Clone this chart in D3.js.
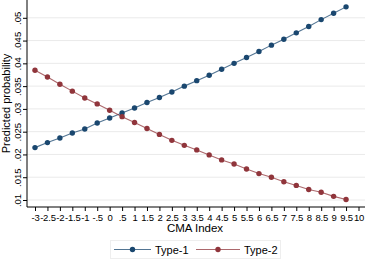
<!DOCTYPE html>
<html>
<head>
<meta charset="utf-8">
<script src="https://cdn.jsdelivr.net/npm/d3@7"></script>
<style>
  body { margin: 0; background: #fff; }
  svg { display: block; font-family: "Liberation Sans", Arial, sans-serif; }
</style>
</head>
<body>
<div id="chart"></div>
<script>
// CMA index values and predicted probabilities
const cmaIndex = [-3, -2.5, -2, -1.5, -1, -0.5, 0, 0.5, 1, 1.5, 2, 2.5, 3, 3.5,
  4, 4.5, 5, 5.5, 6, 6.5, 7, 7.5, 8, 8.5, 9, 9.5];

const type1 = [0.0215, 0.0226, 0.0236, 0.0247, 0.0256, 0.0269, 0.0280, 0.0291, 0.0302,
  0.0314, 0.0325, 0.0337, 0.0350, 0.0362, 0.0374, 0.0387, 0.0400, 0.0413, 0.0426,
  0.0440, 0.0453, 0.0467, 0.0481, 0.0496, 0.0510, 0.0524];

const type2 = [0.0385, 0.0370, 0.0354, 0.0339, 0.0324, 0.0311, 0.0297, 0.0283, 0.0270,
  0.0257, 0.0244, 0.0231, 0.0220, 0.0210, 0.0199, 0.0188, 0.0179, 0.0168, 0.0158,
  0.0150, 0.0140, 0.0132, 0.0123, 0.0117, 0.0108, 0.0101];

const xTicks = [-3, -2.5, -2, -1.5, -1, -0.5, 0, 0.5, 1, 1.5, 2, 2.5, 3, 3.5, 4,
  4.5, 5, 5.5, 6, 6.5, 7, 7.5, 8, 8.5, 9, 9.5, 10];
const yTicks = [0.01, 0.015, 0.02, 0.025, 0.03, 0.035, 0.04, 0.045, 0.05];

const seriesNames = ["Type-1", "Type-2"];
const colors = ["#1a476f", "#90353b"];

const width = 369, height = 264;
const plot = { left: 27, right: 365, top: 0, bottom: 207 };

const svg = d3.select("#chart").append("svg")
  .attr("width", width)
  .attr("height", height);

const x = d3.scaleLinear().domain([-3, 10]).range([35, 358.5]);
const y = d3.scaleLinear().domain([0.01, 0.05]).range([200, 17.8]);

// stata style numbers: .5, -.5, .015
const stataFmt = d => String(+d.toFixed(4)).replace(/^(-?)0\./, "$1.");

// horizontal grid
svg.append("g")
  .selectAll("line")
  .data(yTicks)
  .join("line")
  .attr("x1", plot.left)
  .attr("x2", plot.right)
  .attr("y1", d => y(d))
  .attr("y2", d => y(d))
  .attr("stroke", "#eaeaea")
  .attr("stroke-width", 1);

// x axis
const xAxis = svg.append("g")
  .attr("transform", `translate(0,${plot.bottom})`)
  .call(d3.axisBottom(x).tickValues(xTicks).tickSize(4).tickSizeOuter(0).tickFormat(stataFmt));
xAxis.select(".domain").remove();
xAxis.append("line")
  .attr("x1", plot.left).attr("x2", plot.right)
  .attr("stroke", "#000").attr("stroke-width", 1);
xAxis.selectAll(".tick line").attr("stroke", "#000");
xAxis.selectAll(".tick text")
  .attr("y", 7)
  .style("font-size", "9.5px")
  .style("letter-spacing", "-0.2px")
  .style("font-family", "'Liberation Sans', Arial, sans-serif")
  .attr("fill", "#000");

// y axis
const yAxis = svg.append("g")
  .attr("transform", `translate(${plot.left},0)`)
  .call(d3.axisLeft(y).tickValues(yTicks).tickSize(4).tickSizeOuter(0).tickFormat(stataFmt));
yAxis.select(".domain").remove();
yAxis.append("line")
  .attr("y1", plot.top).attr("y2", plot.bottom)
  .attr("stroke", "#000").attr("stroke-width", 1);
yAxis.selectAll(".tick line").attr("stroke", "#000");
yAxis.selectAll(".tick text")
  .attr("x", null)
  .attr("dy", "0")
  .attr("text-anchor", "middle")
  .attr("transform", "translate(-6.5,0) rotate(-90)")
  .style("font-size", "9.5px")
  .style("font-family", "'Liberation Sans', Arial, sans-serif")
  .attr("fill", "#000");

// axis titles
svg.append("text")
  .attr("x", 195)
  .attr("y", 232)
  .attr("text-anchor", "middle")
  .style("font-size", "11.5px")
  .text("CMA Index");

svg.append("text")
  .attr("transform", `translate(10,${(plot.top + plot.bottom) / 2}) rotate(-90)`)
  .attr("text-anchor", "middle")
  .style("font-size", "11px")
  .text("Predicted probability");

// series
const series = [type1, type2];
const line = d3.line().x((d, i) => x(cmaIndex[i])).y(d => y(d));

series.forEach((vals, s) => {
  svg.append("path")
    .datum(vals)
    .attr("d", line)
    .attr("fill", "none")
    .attr("stroke", colors[s])
    .attr("stroke-opacity", 0.75)
    .attr("stroke-width", 1.1);

  svg.append("g")
    .selectAll("circle")
    .data(vals)
    .join("circle")
    .attr("cx", (d, i) => x(cmaIndex[i]))
    .attr("cy", d => y(d))
    .attr("r", 2.7)
    .attr("fill", colors[s]);
});

// legend
const legend = svg.append("g");
legend.append("rect")
  .attr("x", 110.5).attr("y", 240.5)
  .attr("width", 170).attr("height", 18)
  .attr("fill", "#fff")
  .attr("stroke", "#eeeeee");

const legendItems = [
  { x1: 114, x2: 151, label: 155 },
  { x1: 196, x2: 240, label: 244 }
];
legendItems.forEach((it, s) => {
  legend.append("line")
    .attr("x1", it.x1).attr("x2", it.x2)
    .attr("y1", 249.5).attr("y2", 249.5)
    .attr("stroke", colors[s])
    .attr("stroke-opacity", 0.75)
    .attr("stroke-width", 1.1);
  legend.append("circle")
    .attr("cx", (it.x1 + it.x2) / 2)
    .attr("cy", 249.5)
    .attr("r", 2.7)
    .attr("fill", colors[s]);
  legend.append("text")
    .attr("x", it.label)
    .attr("y", 253.5)
    .style("font-size", "11px")
    .text(seriesNames[s]);
});
</script>
</body>
</html>
